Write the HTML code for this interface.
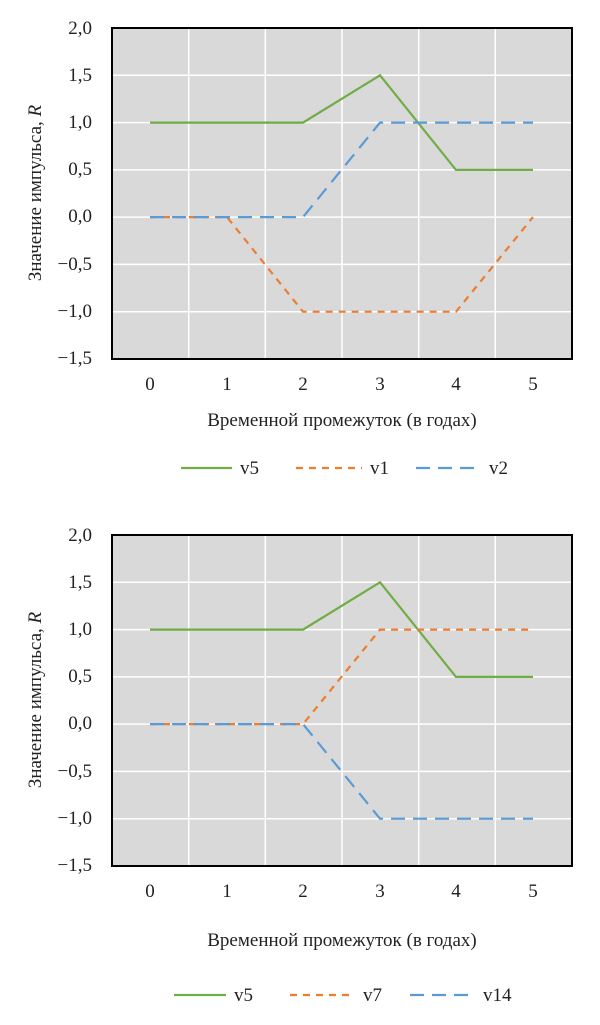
<!DOCTYPE html>
<html><head><meta charset="utf-8"><style>
body{margin:0;background:#fff}
svg text{font-family:"Liberation Serif",serif;fill:#222}
</style></head><body>
<svg width="600" height="1020" viewBox="0 0 600 1020" xmlns="http://www.w3.org/2000/svg">
<defs>
<g id="grid">
<rect x="112" y="0" width="460" height="331" fill="#d9d9d9"/>
<g stroke="#fff" stroke-width="1.5">
<line x1="112" x2="572" y1="47.3" y2="47.3"/><line x1="112" x2="572" y1="94.6" y2="94.6"/>
<line x1="112" x2="572" y1="141.9" y2="141.9"/><line x1="112" x2="572" y1="189.1" y2="189.1"/>
<line x1="112" x2="572" y1="236.4" y2="236.4"/><line x1="112" x2="572" y1="283.7" y2="283.7"/>
<line x1="188.7" x2="188.7" y1="0" y2="331"/><line x1="265.3" x2="265.3" y1="0" y2="331"/>
<line x1="342" x2="342" y1="0" y2="331"/><line x1="418.7" x2="418.7" y1="0" y2="331"/>
<line x1="495.3" x2="495.3" y1="0" y2="331"/>
</g>
<rect x="112" y="0" width="460" height="331" fill="none" stroke="#000" stroke-width="2"/>
<g font-size="19" text-anchor="end">
<text x="92" y="6">2,0</text><text x="92" y="53">1,5</text><text x="92" y="100">1,0</text>
<text x="92" y="147">0,5</text><text x="92" y="194">0,0</text><text x="92" y="242">−0,5</text>
<text x="92" y="289">−1,0</text><text x="92" y="336">−1,5</text>
</g>
<g font-size="19" text-anchor="middle">
<text x="150" y="362">0</text><text x="227" y="362">1</text><text x="303" y="362">2</text>
<text x="380" y="362">3</text><text x="456" y="362">4</text><text x="533" y="362">5</text>
</g>
<text transform="translate(41,165) rotate(-90)" font-size="19" text-anchor="middle">Значение импульса, <tspan font-style="italic">R</tspan></text>
</g>
</defs>
<g transform="translate(0,28)">
<use href="#grid"/>
<text x="342" y="398" font-size="19" text-anchor="middle">Временной промежуток (в годах)</text>
<polyline points="150,94.6 303,94.6 380,47.3 456,141.9 533,141.9" fill="none" stroke="#70ad47" stroke-width="2.2"/>
<polyline points="150,189.1 227,189.1 303,283.7 456,283.7 533,189.1" fill="none" stroke="#ed7d31" stroke-width="2.2" stroke-dasharray="7,6"/>
<polyline points="150,189.1 303,189.1 380,94.6 533,94.6" fill="none" stroke="#5b9bd5" stroke-width="2.2" stroke-dasharray="14,8"/>
<line x1="181" x2="232" y1="440" y2="440" stroke="#70ad47" stroke-width="2.2"/>
<text x="240" y="446" font-size="19">v5</text>
<line x1="296" x2="362" y1="440" y2="440" stroke="#ed7d31" stroke-width="2.2" stroke-dasharray="7,6"/>
<text x="370" y="446" font-size="19">v1</text>
<line x1="416" x2="482" y1="440" y2="440" stroke="#5b9bd5" stroke-width="2.2" stroke-dasharray="14,8"/>
<text x="489" y="446" font-size="19">v2</text>
</g>
<g transform="translate(0,535)">
<use href="#grid"/>
<text x="342" y="411" font-size="19" text-anchor="middle">Временной промежуток (в годах)</text>
<polyline points="150,94.6 303,94.6 380,47.3 456,141.9 533,141.9" fill="none" stroke="#70ad47" stroke-width="2.2"/>
<polyline points="150,189.1 303,189.1 380,94.6 533,94.6" fill="none" stroke="#ed7d31" stroke-width="2.2" stroke-dasharray="7,6"/>
<polyline points="150,189.1 303,189.1 380,283.7 533,283.7" fill="none" stroke="#5b9bd5" stroke-width="2.2" stroke-dasharray="14,8"/>
<line x1="174" x2="226" y1="460" y2="460" stroke="#70ad47" stroke-width="2.2"/>
<text x="234" y="466" font-size="19">v5</text>
<line x1="290" x2="355" y1="460" y2="460" stroke="#ed7d31" stroke-width="2.2" stroke-dasharray="7,6"/>
<text x="363" y="466" font-size="19">v7</text>
<line x1="410" x2="476" y1="460" y2="460" stroke="#5b9bd5" stroke-width="2.2" stroke-dasharray="14,8"/>
<text x="483" y="466" font-size="19">v14</text>
</g>
</svg>
</body></html>
